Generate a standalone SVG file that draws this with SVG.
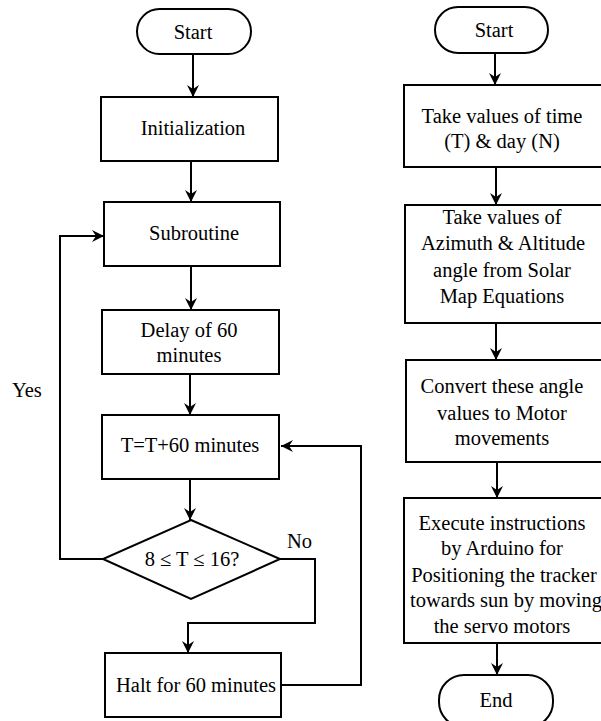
<svg xmlns="http://www.w3.org/2000/svg" width="601" height="721" viewBox="0 0 601 721">
<defs>
<marker id="ah" markerUnits="userSpaceOnUse" markerWidth="14" markerHeight="14" viewBox="-13 -7 14 14" refX="0" refY="0" orient="auto">
<path d="M0,0 L-12,-6 L-8,0 L-12,6 Z" fill="#000"/>
</marker>
</defs>
<style>
.s{fill:#fff;stroke:#000;stroke-width:2}
.c{fill:none;stroke:#000;stroke-width:2}
.a{marker-end:url(#ah)}
text{font-family:'Liberation Serif',Tinos,'DejaVu Serif',serif;font-size:20.5px;fill:#000;text-anchor:middle}
.l{text-anchor:start}
</style>
<rect width="601" height="721" fill="#fff"/>
<g id="connectors">
<line class="c a" x1="193" y1="54" x2="193" y2="97"/>
<line class="c a" x1="191" y1="161" x2="191" y2="202"/>
<line class="c a" x1="191" y1="266" x2="191" y2="310"/>
<line class="c a" x1="190" y1="374" x2="190" y2="415"/>
<line class="c a" x1="190" y1="479" x2="190" y2="520"/>
<polyline class="c a" points="103,559 60,559 60,236 104,236"/>
<polyline class="c a" points="280,559 315,559 315,623 188,623 188,653"/>
<polyline class="c a" points="281,685 361,685 361,446 281,446"/>
<line class="c a" x1="495" y1="53" x2="495" y2="85"/>
<line class="c a" x1="496" y1="167" x2="496" y2="205"/>
<line class="c a" x1="496" y1="323" x2="496" y2="360"/>
<line class="c a" x1="497" y1="462" x2="497" y2="498"/>
<line class="c a" x1="497" y1="643" x2="497" y2="675"/>
</g>
<g font-family="Liberation Serif, serif">
<g id="start1"><rect class="s" x="137" y="9" width="114" height="45" rx="22.5"/><text x="193" y="39">Start</text></g>
<g id="init"><rect class="s" x="101" y="97" width="177" height="64"/><text x="193" y="135">Initialization</text></g>
<g id="subroutine"><rect class="s" x="104" y="202" width="176" height="64"/><text x="194" y="240">Subroutine</text></g>
<g id="delay"><rect class="s" x="102" y="310" width="177" height="64"/><text x="189" y="337">Delay of 60</text><text x="189" y="362">minutes</text></g>
<g id="tinc"><rect class="s" x="102" y="415" width="177" height="64"/><text x="190" y="452">T=T+60 minutes</text></g>
<g id="decision"><polygon class="s" points="191,520 280,559 191,599 103,559"/><text x="192" y="566">8 ≤ T ≤ 16?</text></g>
<g id="halt"><rect class="s" x="105" y="653" width="176" height="64"/><text x="196" y="692">Halt for 60 minutes</text></g>
<g id="yes"><text class="l" x="12" y="397">Yes</text></g>
<g id="no"><text class="l" x="287" y="548">No</text></g>
<g id="start2"><rect class="s" x="435" y="7" width="113" height="46" rx="23"/><text x="494" y="37">Start</text></g>
<g id="takeTime"><rect class="s" x="404" y="85" width="220" height="82"/><text x="502" y="123">Take values of time</text><text x="502" y="148">(T) &amp; day (N)</text></g>
<g id="takeAngles"><rect class="s" x="405" y="205" width="220" height="118"/><text x="502" y="224">Take values of</text><text x="503" y="250">Azimuth &amp; Altitude</text><text x="502" y="277">angle from Solar</text><text x="502" y="303">Map Equations</text></g>
<g id="convert"><rect class="s" x="406" y="360" width="220" height="102"/><text x="502" y="393">Convert these angle</text><text x="502" y="420">values to Motor</text><text x="502" y="445">movements</text></g>
<g id="execute"><rect class="s" x="404" y="498" width="220" height="145"/><text x="502" y="530">Execute instructions</text><text x="502" y="555">by Arduino for</text><text x="504" y="582">Positioning the tracker</text><text x="506" y="607">towards sun by moving</text><text x="502" y="633">the servo motors</text></g>
<g id="end"><rect class="s" x="439" y="675" width="114" height="52" rx="25"/><text x="496" y="707">End</text></g>
</g>
</svg>
